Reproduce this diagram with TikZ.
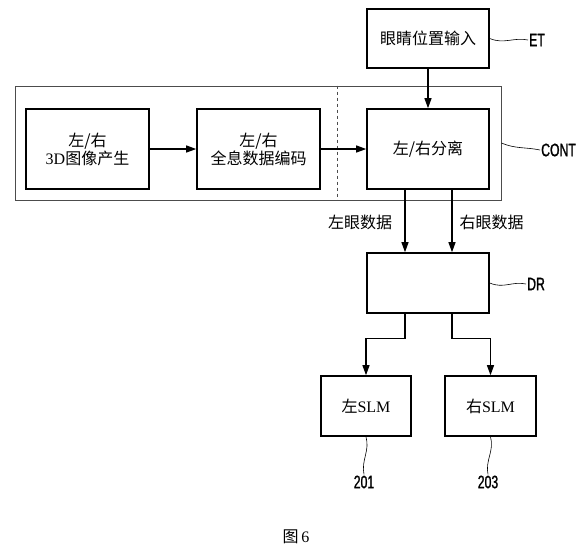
\documentclass[tikz,border=0pt]{standalone}
\usepackage{fontspec}
\setmainfont{Liberation Serif}
\newfontfamily\cjk{Noto Sans CJK SC}
\newfontfamily\tagfont{Liberation Sans}[FakeStretch=0.68,FakeBold=1.2]
\usetikzlibrary{arrows.meta}

\begin{document}
\begin{tikzpicture}[x=1pt,y=-1pt,
	blk/.style={draw,line width=1.6pt,inner sep=0pt,align=center,font=\cjk\fontsize{16}{18}\selectfont},
	arr/.style={-{Triangle[length=10pt,width=7pt]},line width=1.2pt},
	wave/.style={line width=0.6pt},
	tag/.style={inner sep=1pt,font=\tagfont\fontsize{18}{18}\selectfont},
	txt/.style={inner sep=0pt,font=\cjk\fontsize{16}{18}\selectfont}]
	\useasboundingbox (0,0) rectangle (578,547);
	\path node (cont) at (258,143) [draw=black!70,line width=0.8pt,minimum width=486pt,minimum height=114pt] {}
		  node (et) at (428,38.5) [blk,minimum width=122pt,minimum height=59pt] {眼睛位置输入}
		  node (gen) at (87.5,149) [blk,minimum width=123pt,minimum height=80pt] {左/右\\{\rmfamily 3D}图像产生}
		  node (enc) at (258.5,149) [blk,minimum width=123pt,minimum height=80pt] {左/右\\全息数据编码}
		  node (sep) at (428,149) [blk,minimum width=122pt,minimum height=80pt] {左/右分离}
		  node (dr) at (428,283) [blk,minimum width=122pt,minimum height=60pt] {}
		  node (slml) at (366,406) [blk,minimum width=90pt,minimum height=60pt] {左{\rmfamily SLM}}
		  node (slmr) at (490.5,406) [blk,minimum width=91pt,minimum height=60pt] {右{\rmfamily SLM}};
	\path node (ldat) at (360,222) [txt] {左眼数据}
		  node (rdat) at (491.5,222) [txt] {右眼数据}
		  node (fig) at (296,537) [txt] {图\,{\rmfamily 6}};
	\path node (etl) at (528,40) [tag,anchor=west] {ET}
		  node (contl) at (540,150) [tag,anchor=west] {CONT}
		  node (drl) at (526,284) [tag,anchor=west] {DR}
		  node (n201) at (364,482) [tag] {201}
		  node (n203) at (488,482) [tag] {203};
	\draw [black!70,dashed,line width=0.8pt] ([xshift=79pt]cont.north) -- ([xshift=79pt]cont.south);
	\draw [arr] (et.south) -- (sep.north);
	\draw [arr] (gen.east) -- (enc.west);
	\draw [arr] (enc.east) -- (sep.west);
	\draw [arr] ([xshift=-23pt]sep.south) -- ([xshift=-23pt]dr.north);
	\draw [arr] ([xshift=24pt]sep.south) -- ([xshift=24pt]dr.north);
	\draw [arr] ([xshift=-23pt]dr.south) -- ++(0,25) -| (slml.north);
	\draw [arr] ([xshift=24pt]dr.south) -- ++(0,25) -| (slmr.north);
	\draw [wave] (et.east) .. controls +(14,6) and +(-14,-3) .. (etl.west);
	\draw [wave] (cont.east) .. controls +(14,6) and +(-14,-3) .. (contl.west);
	\draw [wave] (dr.east) .. controls +(14,6) and +(-14,-3) .. (drl.west);
	\draw [wave] (slml.south) .. controls +(4,14) and +(-3,-14) .. (n201.north);
	\draw [wave] (slmr.south) .. controls +(4,14) and +(-3,-14) .. (n203.north);
\end{tikzpicture}
\end{document}
